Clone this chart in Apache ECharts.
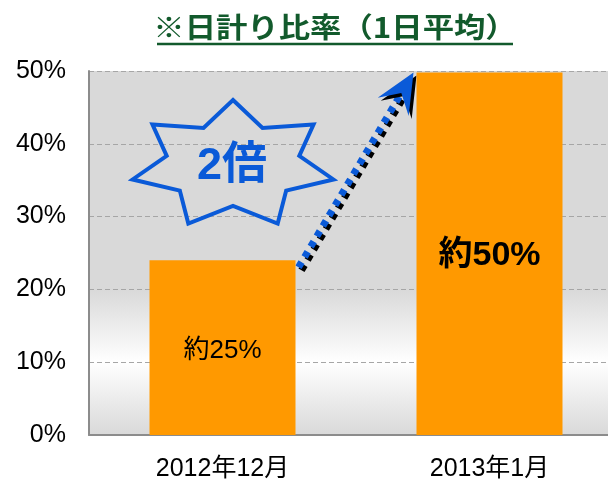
<!DOCTYPE html>
<html>
<head>
<meta charset="utf-8">
<script src="https://cdn.jsdelivr.net/npm/echarts@6/dist/echarts.min.js"></script>
<style>
    html, body { margin: 0; padding: 0; background: #fff; }
    #chart { width: 608px; height: 480px; }
</style>
</head>
<body>
<div id="chart"></div>
<script>
var months = ['2012年12月', '2013年1月'];
var ratios = [24, 49.8];
var barLabels = ['約25%', '約50%'];
var yTicks = [0, 10, 20, 30, 40, 50];
var titleText = '※日計り比率（1日平均）';
var badgeText = '2倍';

var FONT = '"Liberation Sans", Arial, "Noto Sans CJK JP", sans-serif';
var BLUE = '#0a5ad8';
var BAR_W = 146;

var myChart = echarts.init(document.getElementById('chart'));

// 吹き出しの星(7角) 楕円上に頂点を置く
function starPoints(cx, cy, rx, ry, irx, iry, n) {
    var pts = [];
    for (var i = 0; i < n * 2; i++) {
        var a = -Math.PI / 2 + i * Math.PI / n;
        var outer = i % 2 === 0;
        pts.push([cx + Math.cos(a) * (outer ? rx : irx), cy + Math.sin(a) * (outer ? ry : iry)]);
    }
    return pts;
}

myChart.setOption({
    animation: false,
    grid: {
        left: 89,
        top: 71,
        width: 534,
        bottom: 45,
        outerBoundsMode: 'none',
        containLabel: false,
        show: true,
        borderWidth: 0,
        backgroundColor: new echarts.graphic.LinearGradient(0, 0, 0, 1, [
            { offset: 0, color: '#d9d9d9' },
            { offset: 0.6, color: '#d9d9d9' },
            { offset: 0.8, color: '#ffffff' },
            { offset: 1, color: '#d9d9d9' }
        ])
    },
    xAxis: {
        type: 'category',
        data: months,
        axisLine: { lineStyle: { color: '#8c8c8c', width: 2 } },
        axisTick: { show: false },
        axisLabel: { color: '#000', fontSize: 25, fontFamily: FONT, margin: 22 }
    },
    yAxis: {
        type: 'value',
        min: yTicks[0],
        max: yTicks[yTicks.length - 1],
        interval: yTicks[1] - yTicks[0],
        axisLine: { show: true, lineStyle: { color: '#8c8c8c', width: 2 } },
        axisTick: { show: false },
        axisLabel: { color: '#000', fontSize: 25, fontFamily: FONT, margin: 23, formatter: '{value}%' },
        splitLine: { lineStyle: { color: '#a6a6a6', type: [5, 3], width: 1 } }
    },
    series: [{
        type: 'bar',
        barWidth: BAR_W,
        itemStyle: { color: '#ff9900' },
        data: ratios.map(function (v, i) {
            return {
                value: v,
                label: {
                    show: true,
                    position: 'inside',
                    formatter: barLabels[i],
                    color: '#000',
                    fontFamily: FONT,
                    fontSize: i === 0 ? 26 : 34,
                    fontWeight: i === 0 ? 'normal' : 'bold',
                    offset: i === 0 ? [0, 3] : [0, 2]
                }
            };
        })
    }]
});

// 矢印 棒の上端から上端へ
var p1 = myChart.convertToPixel({ seriesIndex: 0 }, [0, ratios[0]]);
var p2 = myChart.convertToPixel({ seriesIndex: 0 }, [1, ratios[1]]);
var start = [p1[0] + BAR_W / 2 + 3, p1[1] + 7];
var tip = [p2[0] - BAR_W / 2 - 3, p2[1]];
var dx = tip[0] - start[0], dy = tip[1] - start[1];
var len = Math.sqrt(dx * dx + dy * dy);
var u = [dx / len, dy / len];
var n = [-u[1], u[0]];
var shaftEnd = [tip[0] - u[0] * 24, tip[1] - u[1] * 24];
var head = [
    tip,
    [tip[0] - u[0] * 40 + n[0] * 18, tip[1] - u[1] * 40 + n[1] * 18],
    shaftEnd,
    [tip[0] - u[0] * 40 - n[0] * 18, tip[1] - u[1] * 40 - n[1] * 18]
];
function shift(pts, ox, oy) {
    return pts.map(function (p) { return [p[0] + ox, p[1] + oy]; });
}

myChart.setOption({
    graphic: [
        {
            type: 'text', x: 335, y: 27, scaleX: 1.12,
            style: { text: titleText, fill: '#125a2c', font: 'bold 28px "Noto Sans CJK JP", sans-serif', align: 'center', verticalAlign: 'middle' }
        },
        {
            type: 'line', shape: { x1: 157, y1: 44, x2: 513, y2: 44 },
            style: { stroke: '#125a2c', lineWidth: 2.5 }
        },
        {
            type: 'polygon', shape: { points: starPoints(233, 165, 103, 65, 68, 41, 7) },
            style: { fill: null, stroke: BLUE, lineWidth: 4, lineJoin: 'miter' }
        },
        {
            type: 'text', x: 232, y: 167,
            style: { text: badgeText, fill: BLUE, font: 'bold 45px "Liberation Sans", "Noto Sans CJK JP", sans-serif', align: 'center', verticalAlign: 'middle' }
        },
        {
            type: 'line', shape: { x1: start[0] + 3, y1: start[1] + 3, x2: shaftEnd[0] + 3, y2: shaftEnd[1] + 3 },
            style: { stroke: '#000', lineWidth: 7, lineDash: [6, 6] }
        },
        {
            type: 'line', shape: { x1: start[0], y1: start[1], x2: shaftEnd[0], y2: shaftEnd[1] },
            style: { stroke: BLUE, lineWidth: 7, lineDash: [6, 6] }
        },
        {
            type: 'polygon', shape: { points: shift(head, 3, 3) },
            style: { fill: '#000' }
        },
        {
            type: 'polygon', shape: { points: head },
            style: { fill: BLUE }
        }
    ]
});
</script>
</body>
</html>
